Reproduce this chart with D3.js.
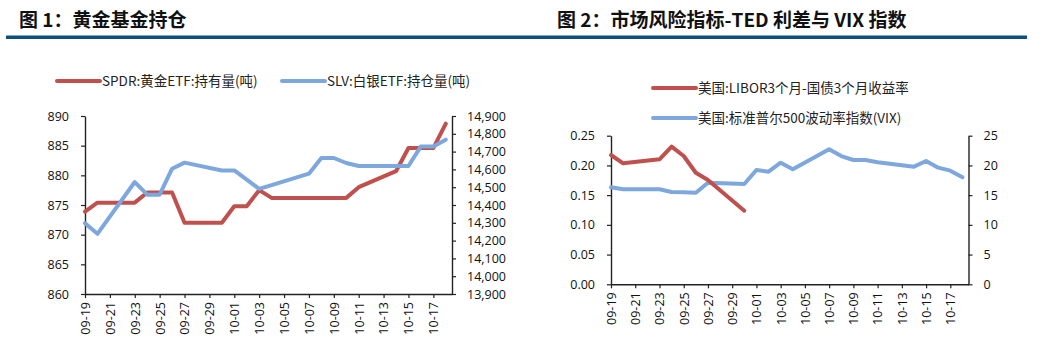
<!DOCTYPE html>
<html>
<head>
<meta charset="utf-8">
<script src="https://cdn.jsdelivr.net/npm/d3@7"></script>
<style>
  body { margin: 0; background: #fff; }
  svg { display: block; }
  text { font-family: "Open Sans", "Noto Sans CJK SC", sans-serif; fill: #111; }
  .cjk { font-family: "Noto Sans CJK SC", sans-serif; }
</style>
</head>
<body>
<svg id="chart" width="1039" height="363"></svg>
<script>
// trading days (2019), shared by both panels
const dates = ['09-19','09-20','09-23','09-24','09-25','09-26','09-27','09-30',
  '10-01','10-02','10-03','10-04','10-07','10-08','10-09','10-10','10-11',
  '10-14','10-15','10-16','10-17','10-18'];
const tickLabels = ['09-19','09-21','09-23','09-25','09-27','09-29','10-01','10-03',
  '10-05','10-07','10-09','10-11','10-13','10-15','10-17'];

// figure 1
const spdr = [873.9, 875.4, 875.4, 877.1, 877.1, 877.1, 872.0, 872.0,
  874.8, 874.8, 877.5, 876.2, 876.2, 876.2, 876.2, 876.2, 878.0,
  880.7, 884.6, 884.6, 884.6, 888.7];
const slv = [14298, 14238, 14529, 14458, 14458, 14604, 14638, 14594,
  14594, 14542, 14491, 14512, 14576, 14664, 14664, 14636, 14619,
  14619, 14619, 14729, 14729, 14767];
const leftTicks1 = [860, 865, 870, 875, 880, 885, 890];
const rightTicks1 = d3.range(13900, 14901, 100);

// figure 2 (TED spread stops at 09-30)
const ted = [0.2175, 0.2036, 0.2103, 0.2315, 0.2158, 0.1877, 0.1755, 0.1238];
const vix = [16.32, 15.98, 15.98, 15.53, 15.47, 15.41, 17.09, 16.87,
  19.23, 18.94, 20.46, 19.35, 22.71, 21.58, 20.91, 20.91, 20.52,
  19.79, 20.74, 19.62, 19.12, 18.0];
const leftTicks2 = [0, 0.05, 0.10, 0.15, 0.20, 0.25];
const rightTicks2 = [0, 5, 10, 15, 20, 25];

const RED = '#C0504D';
const BLUE = '#7DA7DD';
const RULE = '#0E4F7D';

const parse = s => d3.utcParse('%Y-%m-%d')('2019-' + s);
const fmtDay = d3.utcFormat('%m-%d');
const svg = d3.select('#chart');

function panel(opt) {
  const x = d3.scaleUtc()
    .domain([parse('09-19'), d3.utcHour.offset(parse('10-18'), 12)])
    .range([opt.x0, opt.x1]);
  const yl = d3.scaleLinear().domain(opt.leftDomain).range([opt.y0, opt.y1]);
  const yr = d3.scaleLinear().domain(opt.rightDomain).range([opt.y0, opt.y1]);

  // title + rule
  svg.append('text')
    .attr('class', 'cjk')
    .attr('x', opt.titleX).attr('y', 27)
    .style('font-size', '19px').style('font-weight', '700')
    .text(opt.title);
  svg.append('rect')
    .attr('x', opt.ruleX0).attr('y', 35.5)
    .attr('width', opt.ruleX1 - opt.ruleX0).attr('height', 3.5)
    .attr('fill', RULE);

  // legend
  opt.legend.forEach(l => {
    svg.append('line')
      .attr('x1', l.x).attr('x2', l.x + 43)
      .attr('y1', l.y).attr('y2', l.y)
      .attr('stroke', l.color).attr('stroke-width', 4)
      .attr('stroke-linecap', 'round');
    svg.append('text')
      .attr('class', 'cjk')
      .attr('x', l.x + 45).attr('y', l.y).attr('dy', '0.36em')
      .style('font-size', '13.5px').style('fill', '#222')
      .text(l.label);
  });

  // axes
  const xAxis = d3.axisBottom(x)
    .tickValues(tickLabels.map(parse))
    .tickFormat(fmtDay).tickSizeOuter(0).tickSizeInner(4);
  const gx = svg.append('g').attr('transform', `translate(0,${opt.y0})`).call(xAxis);
  gx.selectAll('text')
    .attr('transform', 'rotate(-90)')
    .attr('text-anchor', 'end')
    .attr('x', -8).attr('y', 0).attr('dy', '0.35em')
    .style('font-size', '12.5px');

  const gl = svg.append('g').attr('transform', `translate(${opt.x0},0)`)
    .call(d3.axisLeft(yl).tickValues(opt.leftTicks).tickFormat(opt.leftFmt)
      .tickSizeOuter(0).tickSizeInner(4).tickPadding(12));
  const gr = svg.append('g').attr('transform', `translate(${opt.x1},0)`)
    .call(d3.axisRight(yr).tickValues(opt.rightTicks).tickFormat(opt.rightFmt)
      .tickSizeOuter(0).tickSizeInner(4).tickPadding(11));
  [gl, gr].forEach(g => g.selectAll('text').style('font-size', '12.5px'));
  [gx, gl, gr].forEach(g => {
    g.select('.domain').attr('stroke', '#222').attr('stroke-width', 1.4);
    g.selectAll('.tick line').attr('stroke', '#222').attr('stroke-width', 1.2);
  });

  // series
  opt.series.forEach(s => {
    const pts = s.values.map((v, i) => [parse(dates[i]), v]);
    const line = d3.line()
      .x(d => x(d[0]))
      .y(d => (s.axis === 'left' ? yl : yr)(d[1]));
    svg.append('path')
      .datum(pts)
      .attr('d', line)
      .attr('fill', 'none')
      .attr('stroke', s.color)
      .attr('stroke-width', 4)
      .attr('stroke-linejoin', 'round')
      .attr('stroke-linecap', 'round');
  });
}

panel({
  title: '图 1：黄金基金持仓',
  titleX: 19, ruleX0: 6, ruleX1: 520,
  x0: 85, x1: 452, y0: 294, y1: 116,
  leftDomain: [860, 890], rightDomain: [13900, 14900],
  leftTicks: leftTicks1, rightTicks: rightTicks1,
  leftFmt: d3.format('d'), rightFmt: d3.format(','),
  legend: [
    { x: 57, y: 81, color: RED, label: 'SPDR:黄金ETF:持有量(吨)' },
    { x: 282, y: 81, color: BLUE, label: 'SLV:白银ETF:持仓量(吨)' }
  ],
  series: [
    { values: spdr, axis: 'left', color: RED },
    { values: slv, axis: 'right', color: BLUE }
  ]
});

panel({
  title: '图 2：市场风险指标-TED 利差与 VIX 指数',
  titleX: 557, ruleX0: 520, ruleX1: 1027,
  x0: 611, x1: 968.5, y0: 284.3, y1: 135.7,
  leftDomain: [0, 0.25], rightDomain: [0, 25],
  leftTicks: leftTicks2, rightTicks: rightTicks2,
  leftFmt: d3.format('.2f'), rightFmt: d3.format('d'),
  legend: [
    { x: 653, y: 88, color: RED, label: '美国:LIBOR3个月-国债3个月收益率' },
    { x: 653, y: 118, color: BLUE, label: '美国:标准普尔500波动率指数(VIX)' }
  ],
  series: [
    { values: vix, axis: 'right', color: BLUE },
    { values: ted, axis: 'left', color: RED }
  ]
});
</script>
</body>
</html>
